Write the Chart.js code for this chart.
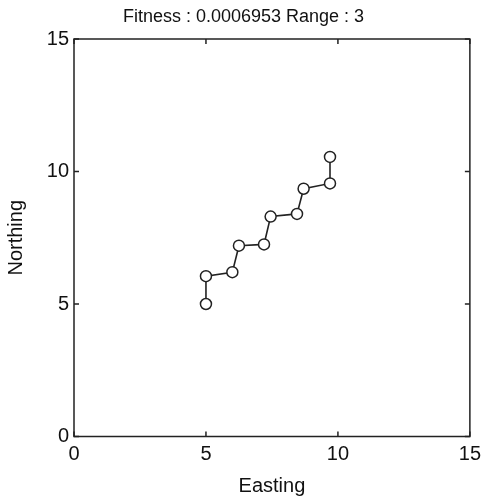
<!DOCTYPE html>
<html>
<head>
<meta charset="utf-8">
<script src="https://cdn.jsdelivr.net/npm/chart.js@4/dist/chart.umd.min.js"></script>
<style>
  html, body { margin: 0; padding: 0; background: #fff; }
  #wrap { width: 487px; height: 499px; }
</style>
</head>
<body>
<div id="wrap"><canvas id="c" width="487" height="499"></canvas></div>
<script>
// path points
const eastings  = [5, 5, 6, 6.25, 7.2, 7.45, 8.45, 8.7, 9.7, 9.7];
const northings = [5, 6.05, 6.2, 7.2, 7.25, 8.3, 8.4, 9.35, 9.55, 10.55];
const tickValues = [0, 5, 10, 15];
const titleText = 'Fitness : 0.0006953 Range : 3';

const ink = '#222';
const fontFamily = '"Liberation Sans", Arial, sans-serif';

// box around the plot + inward tick marks on all four sides
const boxTicks = {
  id: 'boxTicks',
  afterDraw(chart) {
    const { ctx, chartArea: a, scales: { x, y } } = chart;
    ctx.save();
    ctx.strokeStyle = ink;
    ctx.lineWidth = 1.5;
    ctx.strokeRect(a.left, a.top, a.right - a.left, a.bottom - a.top);
    const len = 5;
    ctx.beginPath();
    tickValues.forEach(v => {
      const px = x.getPixelForValue(v);
      ctx.moveTo(px, a.bottom); ctx.lineTo(px, a.bottom - len);
      ctx.moveTo(px, a.top);    ctx.lineTo(px, a.top + len);
      const py = y.getPixelForValue(v);
      ctx.moveTo(a.left, py);  ctx.lineTo(a.left + len, py);
      ctx.moveTo(a.right, py); ctx.lineTo(a.right - len, py);
    });
    ctx.stroke();
    ctx.restore();
  }
};

new Chart(document.getElementById('c'), {
  type: 'scatter',
  data: {
    datasets: [{
      data: eastings.map((e, i) => ({ x: e, y: northings[i] })),
      showLine: true,
      borderColor: ink,
      borderWidth: 1.6,
      pointRadius: 5.5,
      pointBorderWidth: 1.5,
      pointBackgroundColor: '#fff',
      pointBorderColor: ink
    }]
  },
  options: {
    responsive: false,
    animation: false,
    layout: { padding: 0 },
    plugins: {
      legend: { display: false },
      tooltip: { enabled: false },
      title: {
        display: true,
        text: titleText,
        color: '#111',
        font: { family: fontFamily, size: 18, weight: 'normal' },
        padding: { top: 6, bottom: 11.4 }
      }
    },
    scales: {
      x: {
        type: 'linear', min: 0, max: 15,
        afterBuildTicks: s => { s.ticks = tickValues.map(v => ({ value: v })); },
        afterFit: s => { s.height = 62.5; },
        grid: { display: false, drawTicks: false },
        border: { display: false },
        ticks: { color: '#111', padding: 6, font: { family: fontFamily, size: 20 } },
        title: { display: true, text: 'Easting', color: '#111', padding: { top: 2, bottom: 1 },
                 font: { family: fontFamily, size: 20 } }
      },
      y: {
        type: 'linear', min: 0, max: 15,
        afterBuildTicks: s => { s.ticks = tickValues.map(v => ({ value: v })); },
        afterFit: s => { s.width = 74; },
        grid: { display: false, drawTicks: false },
        border: { display: false },
        ticks: { color: '#111', padding: 5, font: { family: fontFamily, size: 20 } },
        title: { display: true, text: 'Northing', color: '#111', padding: { top: 4, bottom: 2 },
                 font: { family: fontFamily, size: 20 } }
      },
      // empty right-hand strip so the title centres on the full width
      yRight: {
        type: 'linear', position: 'right', display: true,
        afterFit: s => { s.width = 16; },
        grid: { display: false, drawTicks: false },
        border: { display: false },
        ticks: { display: false }
      }
    }
  },
  plugins: [boxTicks]
});
</script>
</body>
</html>
